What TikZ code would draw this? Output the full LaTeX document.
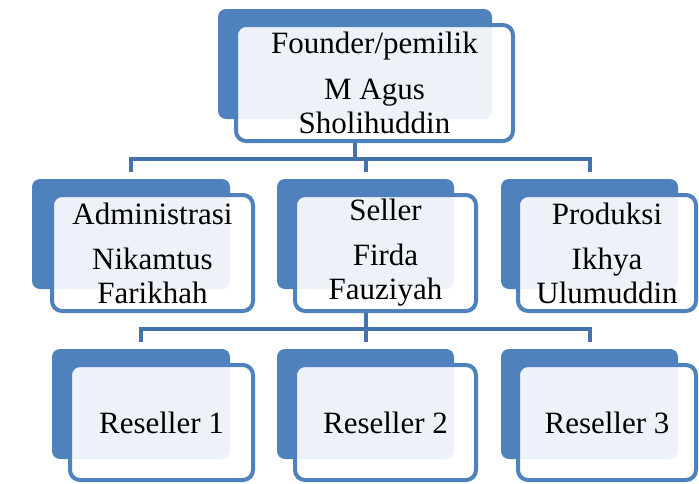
\documentclass[tikz,border=0pt]{standalone}
\usepackage{fontspec}
\setmainfont{Liberation Serif}
\usepackage{tikz}
\usetikzlibrary{backgrounds}
\definecolor{boxblue}{HTML}{4F81BD}
\definecolor{lineblue}{HTML}{4472AB}

\begin{document}
\begin{tikzpicture}[x = 1pt, y = -1pt,
  backbox/.style = {fill = boxblue, rounded corners = 8pt, minimum height = 110pt, inner sep = 0pt},
  frontbox/.style = {draw = boxblue, line width = 4pt, fill = white, fill opacity = 0.9, text opacity = 1,
    rounded corners = 10pt, minimum height = 116pt, inner sep = 0pt, align = center,
    font = \fontsize{31}{34}\selectfont},
  link/.style = {draw = lineblue, line width = 4pt, shorten > = 7pt}]
\useasboundingbox (0, 0) rectangle (699, 483);
% top
\node [backbox, minimum width = 274pt] (founder) at (355, 64) {};
\node [frontbox, minimum width = 277pt] (founderfr) at (374.5, 83) {Founder/pemilik\\[12pt]M Agus\\Sholihuddin};
% middle row
\node [backbox, minimum width = 198pt] (admin) at (131, 234) {};
\node [frontbox, minimum width = 201pt] (adminfr) at (152.5, 253) {Administrasi\\[11pt]Nikamtus\\Farikhah};
\node [backbox, minimum width = 177pt] (seller) at (365.5, 234) {};
\node [frontbox, minimum width = 181pt] (sellerfr) at (385.5, 253) {Seller\\[11pt]Firda\\Fauziyah};
\node [backbox, minimum width = 177pt] (produksi) at (589.5, 234) {};
\node [frontbox, minimum width = 178pt] (produksifr) at (607, 253) {Produksi\\[11pt]Ikhya\\Ulumuddin};
% bottom row
\node [backbox, minimum width = 178pt] (reseller1) at (141, 404) {};
\node [frontbox, minimum width = 183pt, minimum height = 115pt] (reseller1fr) at (161.5, 422.5) {Reseller 1};
\node [backbox, minimum width = 177pt] (reseller2) at (365.5, 404) {};
\node [frontbox, minimum width = 181pt, minimum height = 115pt] (reseller2fr) at (385.5, 422.5) {Reseller 2};
\node [backbox, minimum width = 177pt] (reseller3) at (589.5, 404) {};
\node [frontbox, minimum width = 178pt, minimum height = 115pt] (reseller3fr) at (607, 422.5) {Reseller 3};
% connectors
\begin{scope}[on background layer]
\draw [link] (founder.south |- founderfr.south) -- (founder.south |- 0, 159) -| (admin.north);
\draw [link] (founder.south |- 0, 159) -| (seller.north);
\draw [link] (founder.south |- 0, 159) -| (produksi.north);
\draw [link] (seller.south |- sellerfr.south) -- (seller.south |- 0, 329) -| (reseller1.north);
\draw [link] (seller.south |- 0, 329) -| (reseller2.north);
\draw [link] (seller.south |- 0, 329) -| (reseller3.north);
\end{scope}
\end{tikzpicture}
\end{document}
